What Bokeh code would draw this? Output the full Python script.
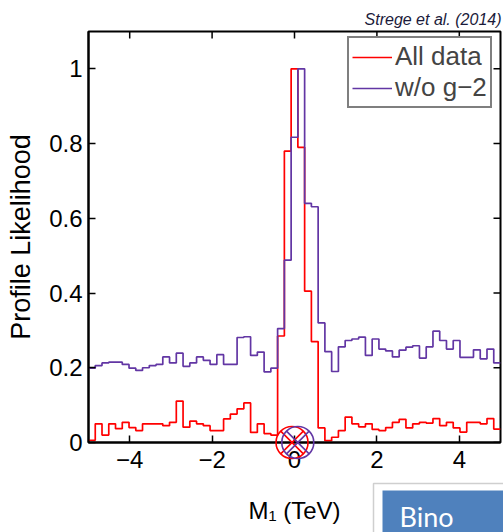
import numpy as np
from bokeh.plotting import figure
from bokeh.models import Range1d, FixedTicker
from bokeh.core.properties import value
from bokeh.embed import file_html
from bokeh.resources import INLINE

# ---------------- data ----------------
x_min, x_max = -5.0, 5.0
y_min, y_max = 0.0, 1.1
n_bins = 61

all_data = [0.006, 0.05, 0.02, 0.05, 0.037, 0.054, 0.04, 0.032, 0.05, 0.05,
            0.05, 0.045, 0.054, 0.111, 0.041, 0.057, 0.05, 0.045, 0.032, 0.032,
            0.063, 0.076, 0.09, 0.106, 0.027, 0.05, 0.024, 0.02, 0.285, 0.78,
            1.0, 0.79, 0.405, 0.27, 0.039, 0.005, 0.014, 0.032, 0.068, 0.05,
            0.042, 0.05, 0.035, 0.032, 0.04, 0.054, 0.062, 0.039, 0.05, 0.054,
            0.052, 0.064, 0.045, 0.054, 0.039, 0.028, 0.054, 0.054, 0.05, 0.064,
            0.036]

wo_g2 = [0.199, 0.206, 0.213, 0.215, 0.215, 0.209, 0.199, 0.193, 0.2, 0.206,
         0.209, 0.229, 0.213, 0.239, 0.204, 0.213, 0.229, 0.22, 0.209, 0.235,
         0.209, 0.209, 0.281, 0.283, 0.233, 0.242, 0.189, 0.199, 0.305, 0.488,
         0.817, 1.0, 0.64, 0.631, 0.32, 0.243, 0.19, 0.256, 0.273, 0.277,
         0.282, 0.233, 0.277, 0.25, 0.245, 0.229, 0.247, 0.255, 0.259, 0.226,
         0.256, 0.298, 0.273, 0.25, 0.273, 0.228, 0.228, 0.248, 0.224, 0.25,
         0.213]

best_fit_x = [-0.06, 0.08]
best_fit_y = [0.0, 0.0]

x_ticks = [-4, -2, 0, 2, 4]
x_tick_labels = ["\u22124", "\u22122", "0", "2", "4"]
y_ticks = [0, 0.2, 0.4, 0.6, 0.8, 1.0]
y_tick_labels = ["0", "0.2", "0.4", "0.6", "0.8", "1"]

credit_text = "Strege et al. (2014)"
slide_text = "Bino"

RED = "#ff0000"
PURPLE = "#6236a4"
FONT = "Liberation Sans"

# frame geometry in canvas pixels
FL, FR, FT, FB = 88, 500, 31, 442
W, H = 503, 532


def px_x(px):
    return x_min + (px - FL) / (FR - FL) * (x_max - x_min)


def px_y(py):
    return y_min + (FB - py) / (FB - FT) * (y_max - y_min)


edges = np.linspace(x_min, x_max, n_bins + 1)

p = figure(width=W, height=H, x_range=Range1d(x_min, x_max), y_range=Range1d(y_min, y_max),
           output_backend="svg", toolbar_location=None,
           min_border_left=FL, min_border_right=W - FR, min_border_top=FT, min_border_bottom=H - FB)
p.grid.visible = False
p.outline_line_color = "black"
p.outline_line_width = 2
p.background_fill_color = "white"
p.border_fill_color = "white"

p.step(x=edges, y=all_data + [all_data[-1]], mode="after", line_color=RED, line_width=1.7,
       legend_label="All data")
p.step(x=edges, y=wo_g2 + [wo_g2[-1]], mode="after", line_color=PURPLE, line_width=1.7,
       legend_label="w/o g\u22122")

p.scatter(x=best_fit_x, y=best_fit_y, marker="circle_x", size=32, fill_color=None,
          line_color=[RED, PURPLE], line_width=1.6, level="overlay")

# mirrored inward ticks on top and right edges (tick length ~7 px)
tick_dx = 7 / (FR - FL) * (x_max - x_min)
tick_dy = 7 / (FB - FT) * (y_max - y_min)
p.segment(x0=x_ticks, y0=[y_max - tick_dy] * len(x_ticks), x1=x_ticks, y1=[y_max] * len(x_ticks),
          line_color="black", line_width=1.5)
p.segment(x0=[x_max - tick_dx] * len(y_ticks), y0=y_ticks, x1=[x_max] * len(y_ticks), y1=y_ticks,
          line_color="black", line_width=1.5)

xax = p.below[0]
yax = p.left[0]
for ax, ticks, labels in ((xax, x_ticks, x_tick_labels), (yax, y_ticks, y_tick_labels)):
    ax.ticker = FixedTicker(ticks=ticks)
    ax.major_label_overrides = dict(zip(ticks, labels))
    ax.major_tick_in = 7
    ax.major_tick_out = 0
    ax.minor_tick_in = 0
    ax.minor_tick_out = 0
    ax.axis_line_color = "black"
    ax.axis_line_width = 2
    ax.major_tick_line_color = "black"
    ax.major_tick_line_width = 1.5
    ax.major_label_text_font = FONT
    ax.major_label_text_color = "black"
    ax.major_label_text_font_size = "24px"
    ax.axis_label_text_font = FONT
    ax.axis_label_text_font_style = "normal"
    ax.axis_label_text_color = "black"

xax.major_label_standoff = 8
yax.major_label_standoff = 6
xax.axis_label = "M\u2081 (TeV)"
yax.axis_label = "Profile Likelihood"
xax.axis_label_text_font_size = "24px"
yax.axis_label_text_font_size = "27px"
xax.axis_label_standoff = 26
yax.axis_label_standoff = 10

leg = p.legend[0]
leg.location = (259, 334)
leg.margin = 0
leg.padding = 3
leg.spacing = 0
leg.border_line_color = "black"
leg.border_line_width = 2
leg.background_fill_color = "white"
leg.background_fill_alpha = 1
leg.label_text_font = FONT
leg.label_text_font_size = "26px"
leg.glyph_width = 40
leg.glyph_height = 26
leg.label_standoff = 3
leg.label_height = 26

# credit line above the frame (overlay level so it is not clipped)
p.text(x=[px_x(501)], y=[px_y(18.5)], text=[credit_text], text_align="right",
       text_baseline="alphabetic", text_font=value(FONT), text_font_style="italic",
       text_font_size="16px", text_color="#1a1a3a", level="overlay")

# slide overlay box at the bottom right
p.quad(left=[px_x(373)], right=[px_x(530)], top=[px_y(483)], bottom=[px_y(560)],
       fill_color="white", line_color="#cfcfcf", line_width=1.5, level="overlay")
p.quad(left=[px_x(382)], right=[px_x(530)], top=[px_y(490)], bottom=[px_y(560)],
       fill_color="#4f81bd", line_color=None, level="overlay")
p.text(x=[px_x(399)], y=[px_y(499)], text=[slide_text], text_align="left",
       text_baseline="top", text_font=value("Lato"), text_font_size="27px",
       text_color="white", level="overlay")

open("out.html", "w").write(file_html(p, INLINE))
